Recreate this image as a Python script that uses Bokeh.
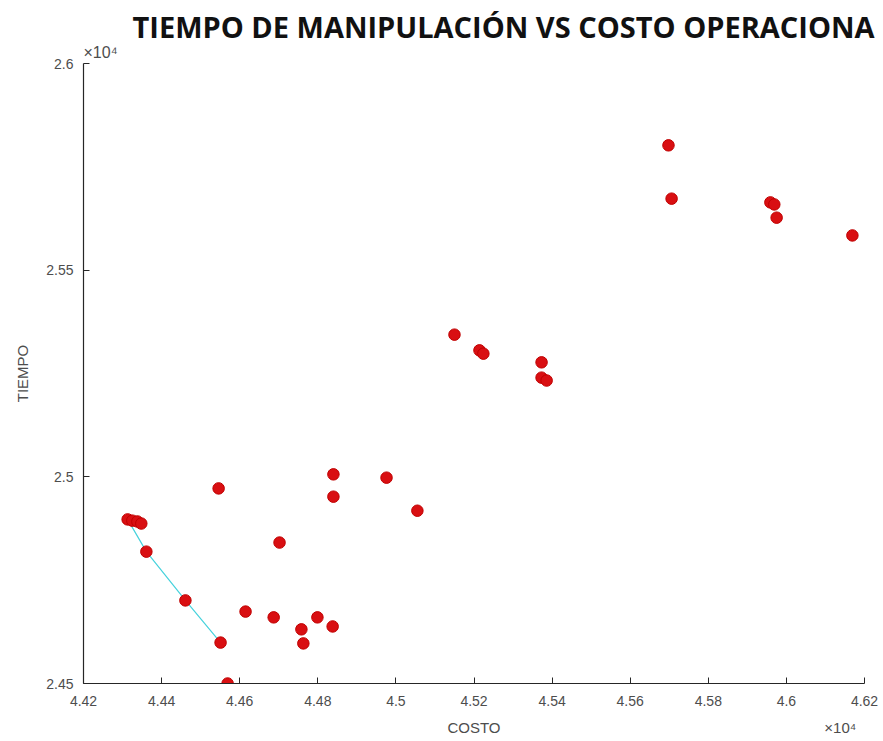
import numpy as np
from bokeh.plotting import figure
from bokeh.models import ColumnDataSource, FixedTicker, Title, LinearAxis, Range1d
from bokeh.embed import file_html
from bokeh.resources import INLINE

# ---- data ----
costo = [44313, 44325, 44338, 44348, 44361, 44461, 44551, 44569, 44546, 44615,
         44702, 44687, 44758, 44763, 44799, 44838, 44840, 44840, 44976, 45055,
         45150, 45214, 45224, 45373, 45373, 45386, 45698, 45706, 45959, 45969,
         45975, 46169]
tiempo = [24897, 24894, 24892, 24887, 24819, 24701, 24599, 24500, 24972, 24674,
          24841, 24660, 24631, 24597, 24660, 24638, 25006, 24952, 24998, 24918,
          25344, 25306, 25298, 25277, 25240, 25233, 25802, 25673, 25664, 25659,
          25627, 25584]

frente_costo = [44313, 44361, 44461, 44551]
frente_tiempo = [24897, 24819, 24701, 24599]

x_ticks = [44200, 44400, 44600, 44800, 45000, 45200, 45400, 45600, 45800, 46000, 46200]
x_tick_labels = ["4.42", "4.44", "4.46", "4.48", "4.5", "4.52", "4.54", "4.56", "4.58", "4.6", "4.62"]
y_ticks = [24500, 25000, 25500, 26000]
y_tick_labels = ["2.45", "2.5", "2.55", "2.6"]

title_text = "TIEMPO DE MANIPULACIÓN VS COSTO OPERACIONA"
x_label = "COSTO"
y_label = "TIEMPO"
exp_label = "×10⁴"

tick_col = "#4d4d4d"

# ---- figure ----
p = figure(width=883, height=741, x_range=(x_ticks[0], x_ticks[-1]),
           y_range=(y_ticks[0], y_ticks[-1]),
           output_backend="svg", toolbar_location=None,
           min_border_left=83, min_border_right=19,
           min_border_top=63, min_border_bottom=58)
p.outline_line_color = None
p.background_fill_color = "white"
p.border_fill_color = "white"
p.grid.visible = False

# main title
p.title.text = title_text
p.title.text_font = "Open Sans"
p.title.text_font_style = "bold"
p.title.text_font_size = "29px"
p.title.text_color = "#111111"
p.title.align = "left"
p.title.offset = 49
p.title.standoff = -13

p.line(frente_costo, frente_tiempo, line_color="#46d2dc", line_width=1.2)
src = ColumnDataSource(dict(x=costo, y=tiempo))
p.scatter("x", "y", source=src, size=11.5, fill_color="#d90f12",
          line_color="#c00000", line_width=1)

for ax in (p.xaxis, p.yaxis):
    ax.axis_line_color = "#262626"
    ax.axis_line_width = 1.2
    ax.major_tick_line_color = "#262626"
    ax.major_tick_in = 6
    ax.major_tick_out = 0
    ax.minor_tick_line_color = None
    ax.major_label_text_font = "Liberation Sans"
    ax.major_label_text_font_size = "14px"
    ax.major_label_text_color = tick_col
    ax.axis_label_text_font = "Liberation Sans"
    ax.axis_label_text_font_size = "15px"
    ax.axis_label_text_font_style = "normal"
    ax.axis_label_text_color = tick_col

p.xaxis.ticker = FixedTicker(ticks=x_ticks)
p.xaxis.major_label_overrides = {t: l for t, l in zip(x_ticks, x_tick_labels)}
p.yaxis.ticker = FixedTicker(ticks=y_ticks)
p.yaxis.major_label_overrides = {t: l for t, l in zip(y_ticks, y_tick_labels)}
p.yaxis.axis_label = y_label
p.xaxis.major_label_standoff = 12
p.yaxis.major_label_standoff = 10
p.yaxis.axis_label_standoff = 12

# exponent above the y axis
p.add_layout(Title(text=exp_label, align="left", offset=0, standoff=5,
                   text_font="Liberation Sans", text_font_size="16px",
                   text_font_style="normal", text_color=tick_col), "above")

# x axis label and the x exponent share one row under the tick labels
p.extra_x_ranges = {"rotulos": Range1d(0, 1)}
rot_pos = [0.5, 0.969]
rot_txt = [x_label, exp_label]
lab_ax = LinearAxis(x_range_name="rotulos", ticker=FixedTicker(ticks=rot_pos),
                    major_label_overrides={t: s for t, s in zip(rot_pos, rot_txt)})
lab_ax.axis_line_color = None
lab_ax.major_tick_line_color = None
lab_ax.minor_tick_line_color = None
lab_ax.major_tick_in = 0
lab_ax.major_tick_out = 0
lab_ax.major_label_standoff = 10
lab_ax.major_label_text_font = "Liberation Sans"
lab_ax.major_label_text_font_size = "15px"
lab_ax.major_label_text_color = tick_col
p.add_layout(lab_ax, "below")

open("out.html", "w").write(file_html(p, INLINE))
